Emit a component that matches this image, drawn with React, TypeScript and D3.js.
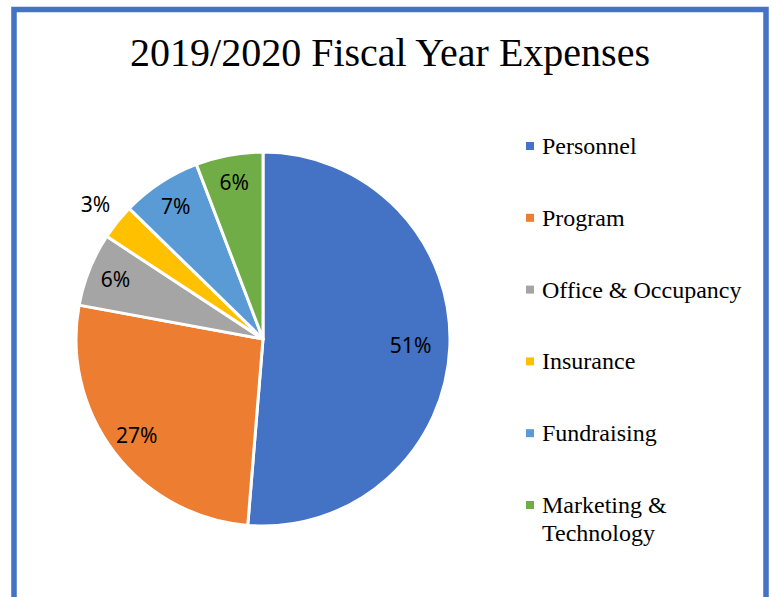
import React from "react";
import * as d3 from "d3";

const categories = ["Personnel", "Program", "Office & Occupancy", "Insurance", "Fundraising", "Marketing & Technology"];
const values = [51.3, 26.6, 6.35, 3.05, 6.9, 5.8];
const legendLines = [["Personnel"], ["Program"], ["Office & Occupancy"], ["Insurance"], ["Fundraising"], ["Marketing &", "Technology"]];
const colors = ["#4472C4", "#ED7D31", "#A5A5A5", "#FFC000", "#5B9BD5", "#70AD47"];
const title = "2019/2020 Fiscal Year Expenses";

const W = 771, H = 597;
const cx = 263, cy = 339, R = 187;

export default function App() {
  const pie = d3.pie<number>().sort(null).value((d) => d)(values);
  const arc = d3.arc<d3.PieArcDatum<number>>().innerRadius(0).outerRadius(R);
  const inLabel = d3.arc<d3.PieArcDatum<number>>().innerRadius(R * 0.85).outerRadius(R * 0.85);
  const bigLabel = d3.arc<d3.PieArcDatum<number>>().innerRadius(R * 0.79).outerRadius(R * 0.79);
  const outLabel = d3.arc<d3.PieArcDatum<number>>().innerRadius(R * 1.15).outerRadius(R * 1.15);
  const total = d3.sum(values);
  const legendY = d3.scaleLinear().domain([0, categories.length - 1]).range([146, 505]);

  return (
    <svg width={W} height={H} style={{ position: "absolute", left: 0, top: 0, background: "#fff" }}>
      <rect x={14} y={9.5} width={752} height={H} fill="#fff" stroke="#4472C4" strokeWidth={5.5} />
      <text x={390} y={66} textAnchor="middle" fontFamily="Liberation Serif" fontSize={40} fill="#000">
        {title}
      </text>
      <g transform={`translate(${cx},${cy})`}>
        {pie.map((p, i) => (
          <path key={i} d={arc(p) || ""} fill={colors[i]} stroke="#fff" strokeWidth={3} strokeLinejoin="round" />
        ))}
        {pie.map((p, i) => {
          const pct = (p.value / total) * 100;
          const gen = pct < 4 ? outLabel : pct > 50 ? bigLabel : inLabel;
          const [x, y] = gen.centroid(p);
          return (
            <text key={"l" + i} x={x} y={y + 7.5} textAnchor="middle" fontFamily="Noto Sans" fontSize={21} fill="#000">
              {Math.round(pct) + "%"}
            </text>
          );
        })}
      </g>
      <g>
        {legendLines.map((lines, i) => (
          <g key={i}>
            <rect x={526} y={legendY(i) - 4} width={8} height={8} fill={colors[i]} />
            {lines.map((ln, j) => (
              <text key={j} x={542} y={legendY(i) + 8 + j * 28} fontFamily="Liberation Serif" fontSize={24} fill="#000">
                {ln}
              </text>
            ))}
          </g>
        ))}
      </g>
    </svg>
  );
}
